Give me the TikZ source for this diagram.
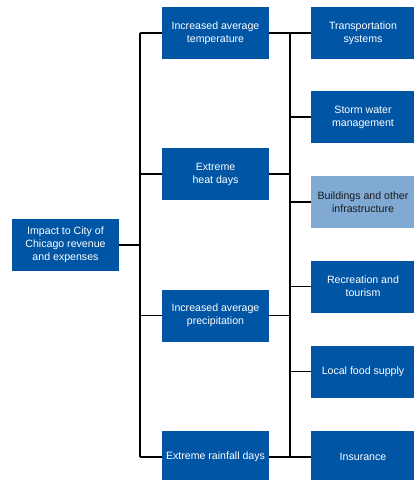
\documentclass[tikz,border=0pt]{standalone}
\usepackage{fontspec}
\setmainfont{Liberation Sans}
\definecolor{dblue}{HTML}{0055A5}
\definecolor{lblue}{HTML}{80AAD3}
\definecolor{dtext}{HTML}{1A1A1A}
\begin{document}
\begin{tikzpicture}[x=1pt,y=-1pt,
  box/.style={draw=none,fill=dblue,text=white,align=center,inner sep=0pt,
    font=\fontsize{10.6}{13}\selectfont},
  conn/.style={draw=black,line width=1.3pt}]
\useasboundingbox (0,0) rectangle (414,480);
% left box
\node[box,minimum width=107pt,minimum height=52pt] (impact) at (65.5,245) {Impact to City of\\Chicago revenue\\and expenses};
% middle boxes
\node[box,minimum width=107pt,minimum height=52pt] (m1) at (215.5,33) {Increased average\\temperature};
\node[box,minimum width=107pt,minimum height=52pt] (m2) at (215.5,174) {Extreme\\heat days};
\node[box,minimum width=107pt,minimum height=52pt] (m3) at (215.5,315.5) {Increased average\\precipitation};
\node[box,minimum width=107pt,minimum height=52pt] (m4) at (215.5,457) {Extreme rainfall days};
% right boxes
\node[box,minimum width=104pt,minimum height=52pt] (r1) at (363,33) {Transportation\\systems};
\node[box,minimum width=104pt,minimum height=52pt] (r2) at (363,117) {Storm water\\management};
\node[box,minimum width=104pt,minimum height=52pt,fill=lblue,text=dtext] (r3) at (363,202) {Buildings and other\\infrastructure};
\node[box,minimum width=104pt,minimum height=52pt] (r4) at (363,286.5) {Recreation and\\tourism};
\node[box,minimum width=104pt,minimum height=52pt] (r5) at (363,371.5) {Local food supply};
\node[box,minimum width=104pt,minimum height=52pt] (r6) at (363,457) {Insurance};
% buses
\coordinate (lb) at (140,0);
\coordinate (rb) at (290,0);
\draw[conn] (impact.east) -- (impact.east -| lb);
\draw[conn] (m1.west -| lb) -- (m4.west -| lb);
\foreach \m in {m1,m2,m3,m4}{
  \draw[conn] (\m.west -| lb) -- (\m.west);
  \draw[conn] (\m.east) -- (\m.east -| rb);
}
\draw[conn] (r1.west -| rb) -- (r6.west -| rb);
\foreach \r in {r1,r2,r3,r4,r5,r6}{
  \draw[conn] (\r.west -| rb) -- (\r.west);
}
\end{tikzpicture}
\end{document}
